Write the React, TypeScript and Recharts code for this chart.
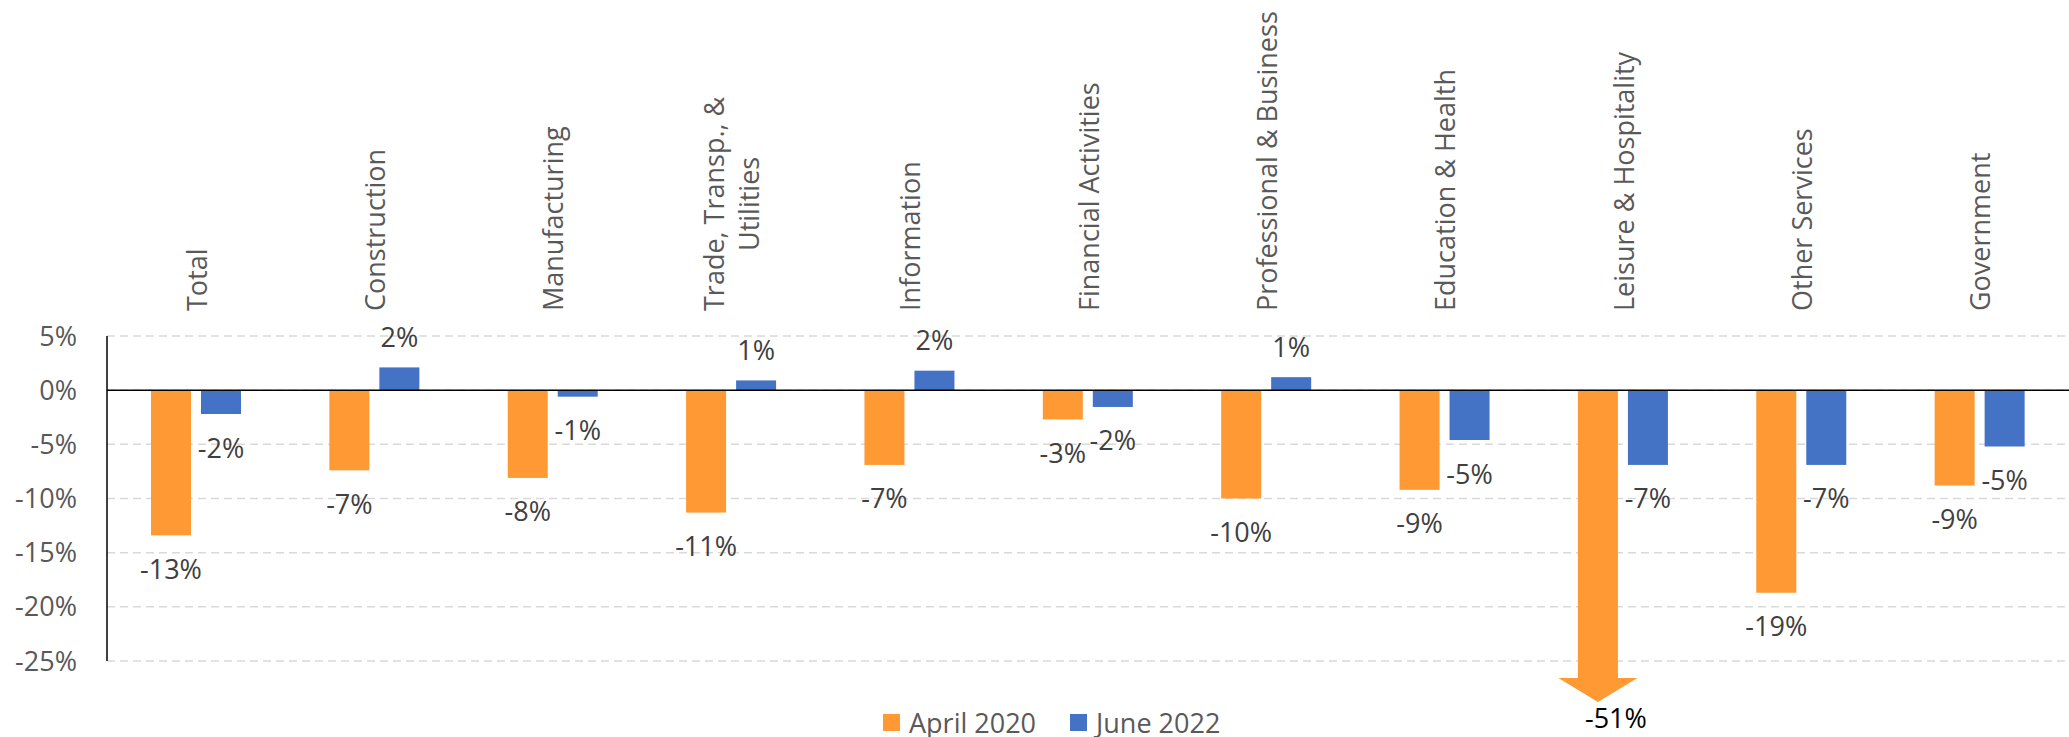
import React from 'react';
import { BarChart, Bar, XAxis, YAxis, CartesianGrid, ReferenceLine, LabelList, Legend } from 'recharts';

const categories = [
  'Total',
  'Construction',
  'Manufacturing',
  'Trade, Transp., &\nUtilities',
  'Information',
  'Financial Activities',
  'Professional & Business',
  'Education & Health',
  'Leisure & Hospitality',
  'Other Services',
  'Government',
];
const april2020 = [-13.4, -7.4, -8.1, -11.3, -6.9, -2.7, -10.0, -9.2, -51.0, -18.7, -8.8];
const june2022 = [-2.2, 2.1, -0.6, 0.9, 1.8, -1.55, 1.2, -4.6, -6.9, -6.9, -5.2];
const yTicks = [5, 0, -5, -10, -15, -20, -25];
const Y_MIN = -25;
const Y_MAX = 5;
const seriesNames = ['April 2020', 'June 2022'];
const seriesColors = ['#FF9933', '#4472C4'];

const FONT = '"Open Sans", sans-serif';
const FONT_SIZE = 27;

const data = categories.map((c, i) => ({
  category: c,
  april: april2020[i],
  june: june2022[i],
  aprilPlot: Math.max(april2020[i], Y_MIN),
  junePlot: Math.max(june2022[i], Y_MIN),
}));

let ctx: CanvasRenderingContext2D | null = null;
const measure = (s: string) => {
  if (!ctx) {
    const c = document.createElement('canvas');
    ctx = c.getContext('2d');
  }
  if (ctx) {
    ctx.font = `${FONT_SIZE}px "Open Sans"`;
    return ctx.measureText(s).width;
  }
  return s.length * FONT_SIZE * 0.55;
};

const CategoryTick = (props: any) => {
  const { x, y, payload } = props;
  const lines = String(payload.value).split('\n');
  const L = Math.max(...lines.map(measure));
  const cy = y - L / 2;
  return (
    <g transform={`translate(${x},${cy}) rotate(-90)`}>
      {lines.map((ln, i) => (
        <text
          key={i}
          x={0}
          y={(i - (lines.length - 1) / 2) * 35}
          textAnchor="middle"
          dominantBaseline="central"
          fill="#595959"
          fontSize={FONT_SIZE}
          fontFamily={FONT}
        >
          {ln}
        </text>
      ))}
    </g>
  );
};

const OverflowBar = (props: any) => {
  const { x, y, width, height, fill, payload, actualKey } = props;
  const top = Math.min(y, y + height);
  const bottom = Math.max(y, y + height);
  const overflow = payload && payload[actualKey] < Y_MIN;
  if (!overflow) {
    return <rect x={x} y={top} width={width} height={Math.max(0, bottom - top)} fill={fill} />;
  }
  const ext = 17;
  const head = 24;
  const wing = 19.5;
  const yEnd = bottom + ext;
  return (
    <g>
      <rect x={x} y={top} width={width} height={yEnd - top} fill={fill} />
      <polygon
        points={`${x - wing},${yEnd} ${x + width + wing},${yEnd} ${x + width / 2},${yEnd + head}`}
        fill={fill}
      />
    </g>
  );
};

const ValueLabel = (props: any) => {
  const vb = props.viewBox && props.viewBox.width !== undefined ? props.viewBox : props;
  const { x, y, width, height } = vb;
  const v = Number(props.value);
  const top = Math.min(y, y + height);
  const bottom = Math.max(y, y + height);
  let ty: number;
  let dx = 0;
  let fill = '#404040';
  if (v >= 0) ty = top - 31;
  else ty = bottom + 33;
  if (v < Y_MIN) {
    ty = bottom + 56;
    dx = 18;
    fill = '#000000';
  }
  return (
    <text
      x={x + width / 2 + dx}
      y={ty}
      textAnchor="middle"
      dominantBaseline="central"
      fill={fill}
      fontSize={FONT_SIZE}
      fontFamily={FONT}
    >
      {`${Math.round(v)}%`}
    </text>
  );
};

const LegendContent = (props: any) => {
  const payload = props.payload || [];
  return (
    <div style={{ display: 'flex', alignItems: 'center', height: 34, fontFamily: FONT, fontSize: FONT_SIZE, color: '#595959', whiteSpace: 'nowrap' }}>
      {payload.map((p: any, i: number) => (
        <div key={i} style={{ display: 'flex', alignItems: 'center', marginRight: i < payload.length - 1 ? 34 : 0 }}>
          <span style={{ display: 'inline-block', width: 17, height: 17, background: p.color, marginRight: 9 }} />
          <span>{p.value}</span>
        </div>
      ))}
    </div>
  );
};

export default function App() {
  return (
    <div style={{ position: 'absolute', left: 0, top: 0, width: 2069, height: 737, background: '#ffffff' }}>
      <BarChart
        width={2069}
        height={737}
        data={data}
        margin={{ top: 0, right: 0, left: 0, bottom: 76 }}
        barSize={40}
        barGap={10}
      >
        <CartesianGrid vertical={false} stroke="#D9D9D9" strokeDasharray="8 5" strokeWidth={1.5} />
        <XAxis
          dataKey="category"
          orientation="top"
          height={336}
          axisLine={false}
          tickLine={false}
          tickSize={0}
          tickMargin={25}
          interval={0}
          tick={<CategoryTick />}
        />
        <YAxis
          width={107}
          domain={[Y_MIN, Y_MAX]}
          ticks={yTicks}
          allowDataOverflow={false}
          axisLine={{ stroke: '#000000', strokeWidth: 1.5 }}
          tickLine={false}
          tickSize={0}
          tickMargin={30}
          tickFormatter={(v: number) => `${v}%`}
          tick={{ fill: '#595959', fontSize: FONT_SIZE, fontFamily: FONT }}
        />
        <Legend
          layout="horizontal"
          verticalAlign="middle"
          align="center"
          wrapperStyle={{ top: 705, left: 883, width: 'auto' }}
          content={<LegendContent />}
        />
        <Bar
          dataKey="aprilPlot"
          name={seriesNames[0]}
          fill={seriesColors[0]}
          isAnimationActive={false}
          shape={(p: any) => <OverflowBar {...p} actualKey="april" />}
        >
          <LabelList dataKey="april" content={<ValueLabel />} />
        </Bar>
        <Bar
          dataKey="junePlot"
          name={seriesNames[1]}
          fill={seriesColors[1]}
          isAnimationActive={false}
          shape={(p: any) => <OverflowBar {...p} actualKey="june" />}
        >
          <LabelList dataKey="june" content={<ValueLabel />} />
        </Bar>
        <ReferenceLine y={0} stroke="#000000" strokeWidth={1.5} />
      </BarChart>
    </div>
  );
}
